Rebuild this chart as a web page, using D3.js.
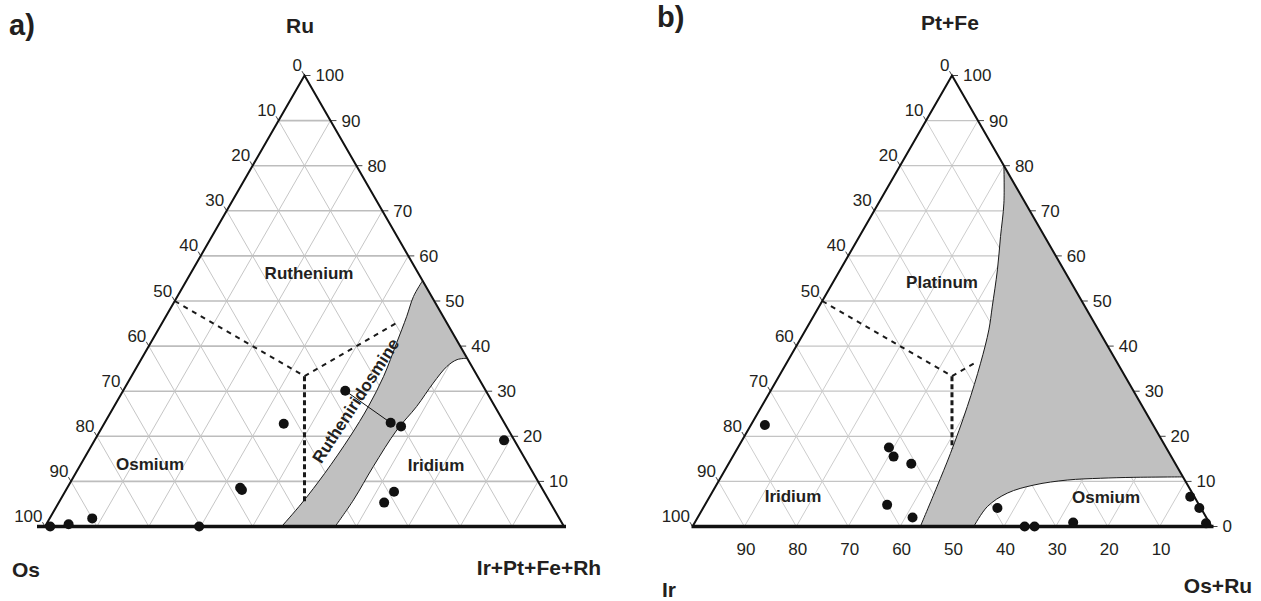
<!DOCTYPE html>
<html>
<head>
<meta charset="utf-8">
<script src="https://cdn.jsdelivr.net/npm/d3@7"></script>
<style>
  body { margin: 0; background: #fff; }
  svg text { font-family: Arial, "Liberation Sans", sans-serif; fill: #231f20; }
</style>
</head>
<body>
<svg id="chart" width="1261" height="601"></svg>
<script>
// all compositions in percent, points given as [top corner, right corner]
const gridValues = [10, 20, 30, 40, 50, 60, 70, 80, 90];
const leftTicks = [0, 10, 20, 30, 40, 50, 60, 70, 80, 90, 100];
const rightTicksA = [100, 90, 80, 70, 60, 50, 40, 30, 20, 10];
const rightTicksB = [100, 90, 80, 70, 60, 50, 40, 30, 20, 10, 0];
const bottomTicksB = [90, 80, 70, 60, 50, 40, 30, 20, 10];

// a) Ru / Os / Ir+Pt+Fe+Rh  -> [Ru, Ir+Pt+Fe+Rh]
const dotsA = [[0, 1], [0.5, 4.3], [1.8, 8.2], [0, 29.7], [8.6, 33.3], [8.1, 33.9],
  [22.8, 34.6], [30.1, 42.8], [23.0, 55.1], [22.2, 57.5], [19.1, 78.9], [7.7, 63.4], [5.3, 62.7]];
const tieLineA = [[30.1, 42.8], [23.0, 55.1]];
const bandLeftA = [[0, 45.6], [5.2, 46.9], [11.8, 48.0], [19.9, 48.8], [26.6, 49.0],
  [33.3, 48.6], [40.7, 47.4], [46.6, 46.4], [51.0, 45.5], [54.5, 45.5]];
const bandRightA = [[0, 55.9], [5.9, 56.5], [13.3, 56.6], [21.4, 57.1], [26.6, 58.3],
  [31.8, 58.9], [35.5, 59.7], [37.0, 60.9], [37.3, 62.7]];
const dashA = [[50, 0], [33.33, 33.33], [45.5, 45.5]];
const dashVertA = [[33.33, 33.33], [5.5, 47.25]];

// b) Pt+Fe / Ir / Os+Ru  -> [Pt+Fe, Os+Ru]
const dotsB = [[22.5, 2.7], [17.5, 29.1], [15.5, 31.0], [13.9, 35.2], [4.8, 35.1], [2.0, 41.4],
  [4.1, 56.7], [0, 64.0], [0, 65.9], [0.9, 72.9], [6.6, 92.6], [4.1, 95.6], [0.7, 98.6]];
const bandLeftB = [[80, 20], [71.7, 24.15], [64.3, 27.2], [56.9, 30.3], [48.7, 33.4], [43.6, 35.3],
  [36.2, 37.4], [26.6, 39.65], [16.2, 41.6], [8.8, 42.7], [0, 43.9]];
const osmiumEdgeB = [[0, 54.2], [4.4, 54.6], [7.4, 56.96], [9.2, 61.2], [10.3, 67.05],
  [10.7, 73.3], [10.9, 79.6], [11, 89]];
const dashB = [[50, 0], [33.33, 33.33], [36.5, 36.5]];
const dashVertB = [[33.33, 33.33], [17.3, 41.35]];

const svg = d3.select("#chart");

function drawPanel(cfg) {
  const g = svg.append("g");
  const x = d3.scaleLinear().domain([0, 100]).range([cfg.x0, cfg.x0 + cfg.width]);
  const y = d3.scaleLinear().domain([0, 100]).range([cfg.base, cfg.base - cfg.height]);
  const pt = (top, right) => [x(right + top / 2), y(top)];
  const line = d3.line();
  const smooth = d3.line().curve(d3.curveCatmullRom.alpha(0.5));

  // grid: horizontal (constant top), constant right, constant left
  gridValues.forEach(v => {
    g.append("path").attr("d", line([pt(v, 0), pt(v, 100 - v)]))
      .attr("stroke", cfg.hGrid).attr("stroke-width", cfg.hWidth).attr("fill", "none");
    g.append("path").attr("d", line([pt(0, v), pt(100 - v, v)]))
      .attr("stroke", cfg.dGrid).attr("stroke-width", 1).attr("fill", "none");
    g.append("path").attr("d", line([pt(0, 100 - v), pt(100 - v, 0)]))
      .attr("stroke", cfg.dGrid).attr("stroke-width", 1).attr("fill", "none");
  });

  // grey field
  const edgeA = cfg.bandLeft.map(d => pt(d[0], d[1]));
  const edgeB = cfg.bandRight.map(d => pt(d[0], d[1]));
  const edgeBPath = cfg.reverseRight ? smooth(edgeB.slice().reverse()) : smooth(edgeB);
  g.append("path")
    .attr("d", smooth(edgeA) + edgeBPath.replace(/^M/, "L") + "Z")
    .attr("fill", "#c0c0c0").attr("stroke", "none");
  [edgeA, edgeB].forEach(e => {
    g.append("path").attr("d", smooth(e)).attr("fill", "none")
      .attr("stroke", "#1a1a1a").attr("stroke-width", 1);
  });

  // dashed field borders
  g.append("path").attr("d", line(cfg.dash.map(d => pt(d[0], d[1]))))
    .attr("fill", "none").attr("stroke", "#1a1a1a").attr("stroke-width", 2)
    .attr("stroke-dasharray", "5,5");
  g.append("path").attr("d", line(cfg.dashVert.map(d => pt(d[0], d[1]))))
    .attr("fill", "none").attr("stroke", "#1a1a1a").attr("stroke-width", 3)
    .attr("stroke-dasharray", "5,3");

  // triangle frame
  g.append("path").attr("d", line([pt(0, 0), pt(100, 0), pt(0, 100)]))
    .attr("fill", "none").attr("stroke", "#111").attr("stroke-width", 2)
    .attr("stroke-linejoin", "miter");
  g.append("path").attr("d", line([[pt(0, 0)[0] - cfg.baseExt, cfg.base], [pt(0, 100)[0] + 2, cfg.base]]))
    .attr("stroke", "#111").attr("stroke-width", 3.5);

  // left ticks (left-corner component, 0 at apex)
  leftTicks.forEach(v => {
    const p = pt(100 - v, 0);
    g.append("line").attr("x1", p[0]).attr("y1", p[1]).attr("x2", p[0] - 2.5).attr("y2", p[1] - 4.3)
      .attr("stroke", "#111").attr("stroke-width", 0.8);
    g.append("text").attr("x", p[0] - 2.5).attr("y", p[1] - 4.5)
      .attr("text-anchor", "end").attr("font-size", 17).text(v);
  });
  // right ticks (top component)
  cfg.rightTicks.forEach(v => {
    const p = pt(v, 100 - v);
    g.append("line").attr("x1", p[0]).attr("y1", p[1]).attr("x2", p[0] + 6).attr("y2", p[1])
      .attr("stroke", "#111").attr("stroke-width", 0.8);
    g.append("text").attr("x", p[0] + 11).attr("y", p[1]).attr("dy", "0.35em")
      .attr("font-size", 17).text(v);
  });
  // bottom ticks (left-corner component)
  cfg.bottomTicks.forEach(v => {
    const p = pt(0, 100 - v);
    g.append("text").attr("x", p[0] + 1.5).attr("y", cfg.base + 28.5)
      .attr("text-anchor", "middle").attr("font-size", 17).text(v);
  });

  // tie line and analyses
  if (cfg.tie) {
    g.append("path").attr("d", line(cfg.tie.map(d => pt(d[0], d[1]))))
      .attr("stroke", "#111").attr("stroke-width", 1);
  }
  g.selectAll("circle.dot").data(cfg.dots).join("circle")
    .attr("class", "dot")
    .attr("cx", d => pt(d[0], d[1])[0])
    .attr("cy", d => pt(d[0], d[1])[1])
    .attr("r", 5).attr("fill", "#111");

  // labels
  cfg.labels.forEach(l => {
    const t = g.append("text").attr("x", l.x).attr("y", l.y)
      .attr("font-size", l.size).attr("font-weight", "bold")
      .attr("text-anchor", l.anchor || "middle").text(l.text);
    if (l.rotate) {
      t.attr("dominant-baseline", "central")
        .attr("transform", `rotate(${l.rotate},${l.x},${l.y})`);
    }
  });
}

drawPanel({
  x0: 45, base: 526.5, width: 519, height: 451, baseExt: 8,
  hGrid: "#bdbdbd", hWidth: 1.6, dGrid: "#c6c6c6",
  bandLeft: bandLeftA, bandRight: bandRightA, reverseRight: true,
  dash: dashA, dashVert: dashVertA, tie: tieLineA, dots: dotsA,
  rightTicks: rightTicksA, bottomTicks: [],
  labels: [
    {text: "a)", x: 9, y: 35, size: 29, anchor: "start"},
    {text: "Ru", x: 300, y: 33, size: 21},
    {text: "Os", x: 12, y: 577, size: 21, anchor: "start"},
    {text: "Ir+Pt+Fe+Rh", x: 539, y: 575, size: 21},
    {text: "Ruthenium", x: 309, y: 279, size: 17},
    {text: "Osmium", x: 150, y: 470, size: 17},
    {text: "Iridium", x: 436, y: 471, size: 17},
    {text: "Rutheniridosmine", x: 356, y: 401, size: 17, rotate: -57}
  ]
});

drawPanel({
  x0: 692.5, base: 526.5, width: 519, height: 451, baseExt: 1,
  hGrid: "#c4c4c4", hWidth: 1.3, dGrid: "#cdcdcd",
  bandLeft: bandLeftB, bandRight: osmiumEdgeB, reverseRight: false,
  dash: dashB, dashVert: dashVertB, tie: null, dots: dotsB,
  rightTicks: rightTicksB, bottomTicks: bottomTicksB,
  labels: [
    {text: "b)", x: 657, y: 27, size: 29, anchor: "start"},
    {text: "Pt+Fe", x: 950, y: 30, size: 21},
    {text: "Ir", x: 662, y: 597, size: 21, anchor: "start"},
    {text: "Os+Ru", x: 1218, y: 593, size: 21},
    {text: "Platinum", x: 942, y: 288, size: 17},
    {text: "Iridium", x: 793, y: 502, size: 17},
    {text: "Osmium", x: 1106, y: 503, size: 17}
  ]
});
</script>
</body>
</html>
